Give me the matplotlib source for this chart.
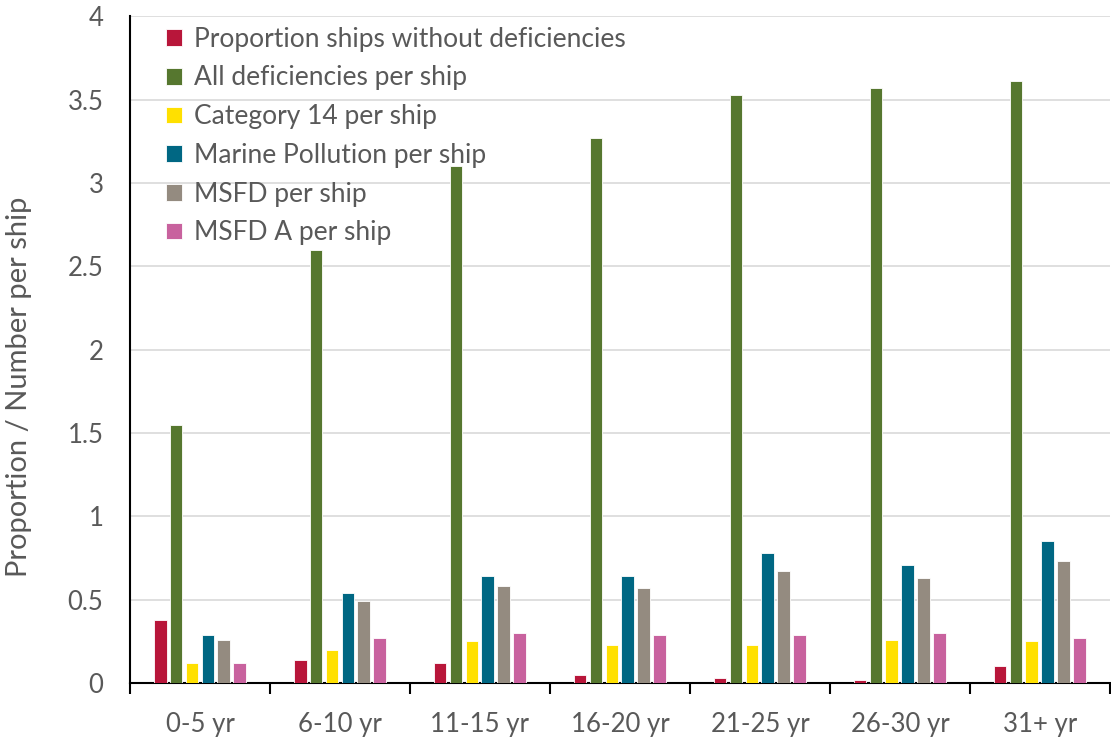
import matplotlib.pyplot as plt
import numpy as np

plt.rcParams['font.family'] = ['Lato', 'DejaVu Sans']

age_groups = ["0-5 yr", "6-10 yr", "11-15 yr", "16-20 yr", "21-25 yr", "26-30 yr", "31+ yr"]

prop_no_def = [0.38, 0.14, 0.12, 0.05, 0.03, 0.02, 0.10]
all_def = [1.55, 2.60, 3.10, 3.27, 3.53, 3.57, 3.61]
cat14 = [0.12, 0.20, 0.25, 0.23, 0.23, 0.26, 0.25]
marine_poll = [0.29, 0.54, 0.64, 0.64, 0.78, 0.71, 0.85]
msfd = [0.26, 0.49, 0.58, 0.57, 0.67, 0.63, 0.73]
msfd_a = [0.12, 0.27, 0.30, 0.29, 0.29, 0.30, 0.27]

series = [
    ("Proportion ships without deficiencies", prop_no_def, "#B8163A"),
    ("All deficiencies per ship", all_def, "#56772F"),
    ("Category 14 per ship", cat14, "#FFE000"),
    ("Marine Pollution per ship", marine_poll, "#006783"),
    ("MSFD per ship", msfd, "#948B80"),
    ("MSFD A per ship", msfd_a, "#C8629E"),
]

fig = plt.figure(figsize=(11.11, 7.4), dpi=100)
ax = fig.add_axes([0.117, 0.077, 0.882, 0.901])

x = np.arange(len(age_groups))
pitch = 0.114
width = 0.092
for i, (name, vals, col) in enumerate(series):
    ax.bar(x + (i - 2.5) * pitch, vals, width, color=col, label=name,
           edgecolor="white", linewidth=0.6, zorder=3)

ax.set_xlim(-0.5, len(age_groups) - 0.5)
ax.set_ylim(0, 4)
ax.set_yticks(np.arange(0, 4.01, 0.5))
ax.set_yticklabels(["0", "0.5", "1", "1.5", "2", "2.5", "3", "3.5", "4"])
ax.yaxis.grid(True, color="#D9D9D9", linewidth=1.2, zorder=0)
ax.set_axisbelow(True)

ax.set_xticks(x)
ax.set_xticklabels(age_groups)
ax.set_xticks(np.arange(-0.5, len(age_groups), 1), minor=True)
ax.tick_params(axis="x", which="major", length=0, pad=21, labelsize=18.5, labelcolor="#595959")
ax.tick_params(axis="x", which="minor", length=8, width=1.5, color="black", direction="out")
ax.tick_params(axis="y", length=0, pad=19, labelsize=18.5, labelcolor="#595959")

for s in ["top", "right"]:
    ax.spines[s].set_visible(False)
ax.spines["left"].set_linewidth(1.5)
ax.spines["bottom"].set_linewidth(1.5)

ax.set_ylabel("Proportion / Number per ship", fontsize=21, color="#595959")
ax.yaxis.set_label_coords(-0.1, 0.445)

ax.legend(loc="upper left", bbox_to_anchor=(0.018, 1.012), frameon=False, fontsize=19,
          labelcolor="#595959", handlelength=0.6, handleheight=0.6, handletextpad=0.45,
          labelspacing=0.52, borderaxespad=0.3)

fig.savefig("out.png", dpi=100)
